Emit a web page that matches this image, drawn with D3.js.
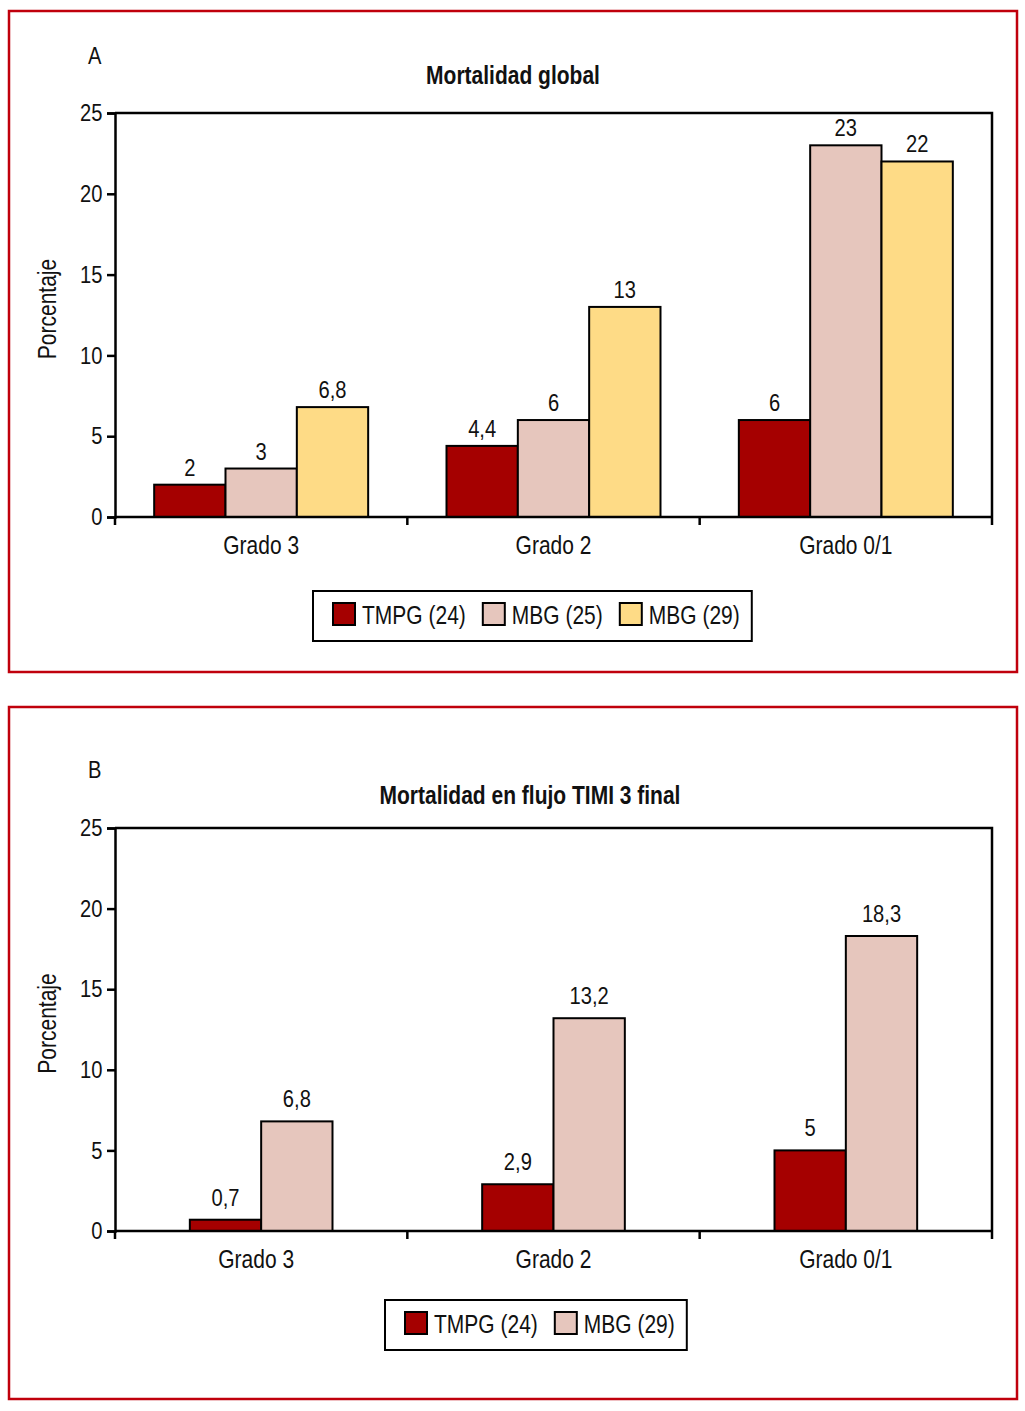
<!DOCTYPE html>
<html>
<head>
<meta charset="utf-8">
<script src="https://cdn.jsdelivr.net/npm/d3@7"></script>
<style>
  body { margin: 0; background: #fff; }
  svg text { font-family: "Liberation Sans", Arial, sans-serif; fill: #111; }
</style>
</head>
<body>
<script>
const width = 1025;
const height = 1411;
const squeeze = 0.84; // condensed look, like Helvetica Narrow

// data
const categories = ["Grado 3", "Grado 2", "Grado 0/1"];
const yTicks = [0, 5, 10, 15, 20, 25];

const seriesNamesA = ["TMPG (24)", "MBG (25)", "MBG (29)"];
const tmpgA = [2, 4.4, 6];
const mbg25A = [3, 6, 23];
const mbg29A = [6.8, 13, 22];

const seriesNamesB = ["TMPG (24)", "MBG (29)"];
const tmpgB = [0.7, 2.9, 5];
const mbg29B = [6.8, 13.2, 18.3];

const colorsA = ["#a50000", "#e6c6bd", "#fedb86"];
const colorsB = ["#a50000", "#e6c6bd"];

const fmt = v => String(v).replace(".", ",");

const svg = d3.select("body")
  .append("svg")
  .attr("width", width)
  .attr("height", height);

const panels = [
  {
    letter: "A", title: "Mortalidad global",
    names: seriesNamesA, values: [tmpgA, mbg25A, mbg29A], colors: colorsA,
    frame: [9, 11, 1008, 661],
    plot: { left: 115, right: 992, top: 113, bottom: 517 },
    letterY: 64, titleY: 84, titleX: 513, catY: 554, labelGap: 9,
    legend: { x: 313, y: 591, h: 50 }
  },
  {
    letter: "B", title: "Mortalidad en flujo TIMI 3 final",
    names: seriesNamesB, values: [tmpgB, mbg29B], colors: colorsB,
    frame: [9, 707, 1008, 692],
    plot: { left: 115, right: 992, top: 828, bottom: 1231 },
    letterY: 778, titleY: 804, titleX: 530, catY: 1268, labelGap: 14,
    legend: { x: 385, y: 1300, h: 50 }
  }
];

panels.forEach(drawPanel);

// text squeezed horizontally around its anchor point
function label(parent, x, y, txt, size, anchor, extra) {
  return parent.append("text")
    .attr("transform", `translate(${x},${y})${extra || ""} scale(${squeeze},1)`)
    .attr("text-anchor", anchor || "start")
    .style("font-size", size + "px")
    .text(txt);
}

function drawPanel(p) {
  const g = svg.append("g");

  // red frame
  g.append("rect")
    .attr("x", p.frame[0]).attr("y", p.frame[1])
    .attr("width", p.frame[2]).attr("height", p.frame[3])
    .attr("fill", "none")
    .attr("stroke", "#c0000c")
    .attr("stroke-width", 2.5);

  label(g, 88, p.letterY, p.letter, 24);

  label(g, p.titleX, p.titleY, p.title, 25, "middle")
    .style("font-weight", "bold");

  const y = d3.scaleLinear()
    .domain([0, 25])
    .range([p.plot.bottom, p.plot.top]);

  const x0 = d3.scaleBand()
    .domain(categories)
    .range([p.plot.left, p.plot.right]);

  const barW = x0.bandwidth() * 0.244;
  const groupW = barW * p.names.length;
  const x1 = d3.scaleBand()
    .domain(d3.range(p.names.length))
    .range([(x0.bandwidth() - groupW) / 2, (x0.bandwidth() + groupW) / 2]);

  // bars
  p.values.forEach((vals, si) => {
    g.selectAll(null)
      .data(vals)
      .enter().append("rect")
      .attr("x", (d, i) => x0(categories[i]) + x1(si))
      .attr("y", d => y(d))
      .attr("width", x1.bandwidth())
      .attr("height", d => y(0) - y(d))
      .attr("fill", p.colors[si])
      .attr("stroke", "#000")
      .attr("stroke-width", 2);

    vals.forEach((d, i) => {
      label(g, x0(categories[i]) + x1(si) + x1.bandwidth() / 2, y(d) - p.labelGap, fmt(d), 24, "middle");
    });
  });

  // plot frame (top and right)
  g.append("path")
    .attr("d", `M${p.plot.left},${p.plot.top}H${p.plot.right}V${p.plot.bottom}`)
    .attr("fill", "none")
    .attr("stroke", "#000")
    .attr("stroke-width", 2.5);

  // y axis
  const yAxis = g.append("g")
    .attr("transform", `translate(${p.plot.left},0)`)
    .call(d3.axisLeft(y).tickValues(yTicks).tickSize(8).tickPadding(7));
  yAxis.select(".domain").attr("stroke-width", 2.5);
  yAxis.selectAll(".tick line").attr("stroke-width", 2.5);
  yAxis.selectAll(".tick text")
    .attr("transform", `scale(${squeeze},1)`)
    .style("font-size", "24px")
    .style("font-family", null);

  // x axis: ticks at category boundaries
  const bounds = categories.map(c => x0(c)).concat([p.plot.right]);
  g.append("line")
    .attr("x1", p.plot.left).attr("x2", p.plot.right)
    .attr("y1", y(0)).attr("y2", y(0))
    .attr("stroke", "#000").attr("stroke-width", 2.5);
  g.selectAll(null)
    .data(bounds)
    .enter().append("line")
    .attr("x1", d => d).attr("x2", d => d)
    .attr("y1", y(0)).attr("y2", y(0) + 8)
    .attr("stroke", "#000").attr("stroke-width", 2.5);
  categories.forEach(c => {
    const shift = (p.names.length === 2 && c === "Grado 3") ? -5 : 0;
    label(g, x0(c) + x0.bandwidth() / 2 + shift, p.catY, c, 25, "middle");
  });

  // y label
  label(g, 56, (p.plot.top + p.plot.bottom) / 2 - 6, "Porcentaje", 25, "middle", " rotate(-90)");

  // legend
  const lg = g.append("g");
  const box = lg.append("rect")
    .attr("x", p.legend.x).attr("y", p.legend.y)
    .attr("height", p.legend.h)
    .attr("fill", "#fff")
    .attr("stroke", "#000")
    .attr("stroke-width", 2);
  let cx = p.legend.x + 20;
  p.names.forEach((name, i) => {
    lg.append("rect")
      .attr("x", cx).attr("y", p.legend.y + 12)
      .attr("width", 22).attr("height", 22)
      .attr("fill", p.colors[i])
      .attr("stroke", "#000")
      .attr("stroke-width", 2);
    const t = label(lg, cx + 29, p.legend.y + 33, name, 25);
    cx += 29 + t.node().getComputedTextLength() * squeeze + 17;
  });
  box.attr("width", cx - 17 + 12 - p.legend.x);
}
</script>
</body>
</html>
